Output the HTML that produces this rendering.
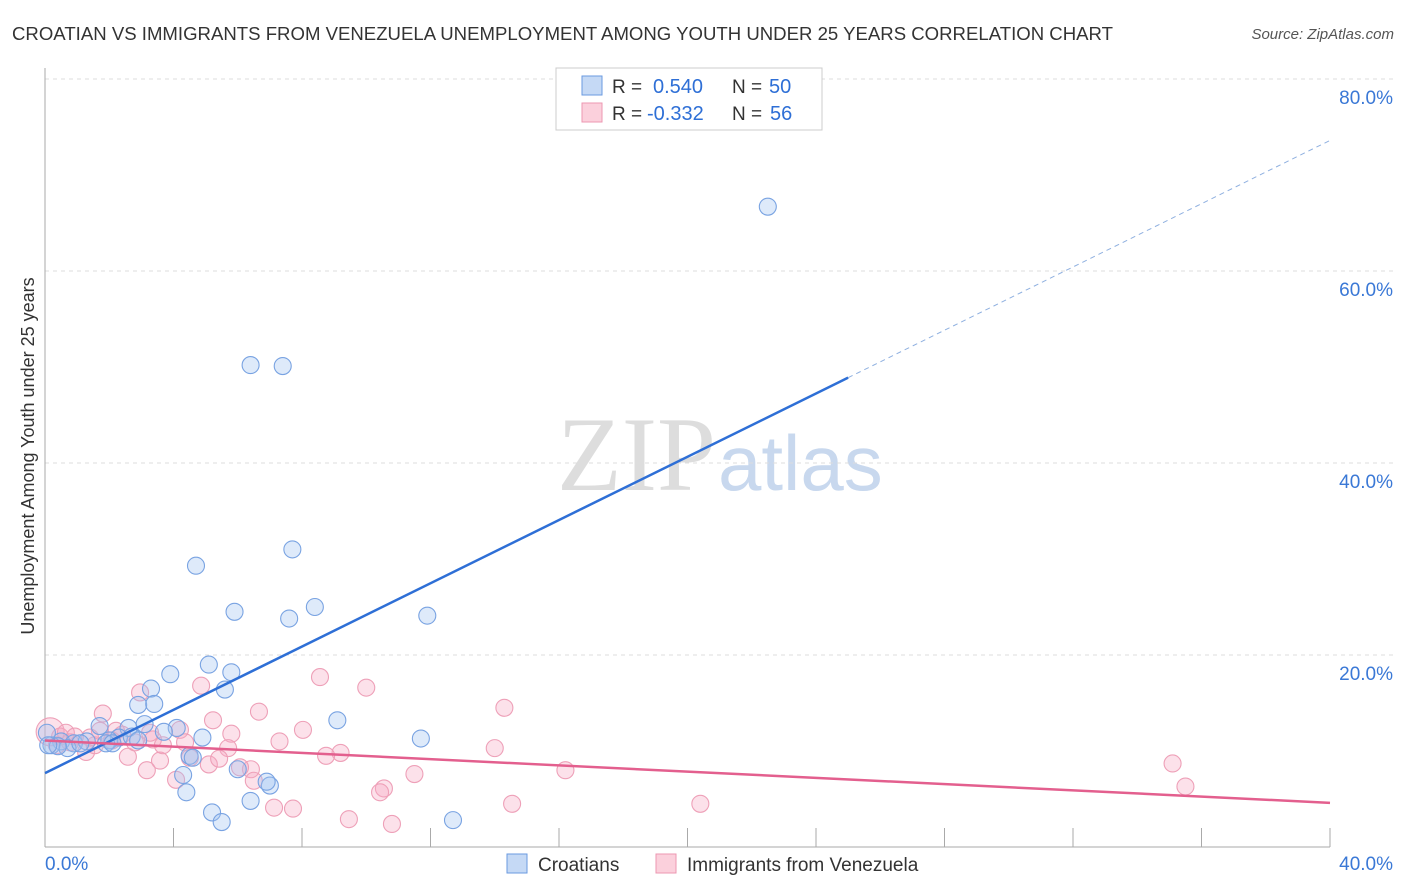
<!DOCTYPE html>
<html><head><meta charset="utf-8"><style>
body{margin:0;background:#fff;font-family:"Liberation Sans",sans-serif}
svg{display:block}
</style></head><body>
<svg id="chart" width="1406" height="892">
<text x="12" y="40" font-size="18.6" fill="#333" textLength="1101" lengthAdjust="spacingAndGlyphs">CROATIAN VS IMMIGRANTS FROM VENEZUELA UNEMPLOYMENT AMONG YOUTH UNDER 25 YEARS CORRELATION CHART</text>
<text x="1394" y="39" font-size="15" fill="#555" font-style="italic" text-anchor="end">Source: ZipAtlas.com</text>
<text x="716" y="490" font-size="106" fill="#ddd" text-anchor="end" font-family="Liberation Serif">ZIP</text>
<text x="718" y="490" font-size="78" fill="#c8d8ee">atlas</text>
<text transform="translate(34,456) rotate(-90)" font-size="18" fill="#333" text-anchor="middle">Unemployment Among Youth under 25 years</text>
<g id="grid"></g><g id="pts"></g><g id="lines"></g>
<g>
<rect x="556" y="68" width="266" height="62" fill="#fff" stroke="#ccc"/>
<rect x="582" y="76" width="20" height="19" fill="#c5d9f5" stroke="#6a9ae0"/>
<rect x="582" y="103" width="20" height="19" fill="#fbd0dc" stroke="#ec97b2"/>
<text x="612" y="93" font-size="19" fill="#333">R =</text>
<text x="653" y="93" font-size="20" fill="#2e6fd6">0.540</text>
<text x="732" y="93" font-size="19" fill="#333">N =</text>
<text x="769" y="93" font-size="20" fill="#2e6fd6">50</text>
<text x="612" y="120" font-size="19" fill="#333">R =</text>
<text x="647" y="120" font-size="20" fill="#2e6fd6">-0.332</text>
<text x="732" y="120" font-size="19" fill="#333">N =</text>
<text x="770" y="120" font-size="20" fill="#2e6fd6">56</text>
</g>
<g>
<rect x="507" y="854" width="20" height="19" fill="#c5d9f5" stroke="#6a9ae0"/>
<text x="538" y="871" font-size="19" fill="#333">Croatians</text>
<rect x="656" y="854" width="20" height="19" fill="#fbd0dc" stroke="#ec97b2"/>
<text x="687" y="871" font-size="19" fill="#333">Immigrants from Venezuela</text>
</g>
</svg>
<script>
const yTicks=[20,40,60,80];
const xLabels=["0.0%","40.0%"];
const blueX=[22.5,6.4,7.4,7.7,4.7,5.9,8.4,7.6,11.9,5.1,3.9,5.8,3.3,5.6,2.9,3.4,3.1,1.7,2.6,4.1,3.7,2.3,2.0,4.9,0.5,0.9,1.3,1.9,0.2,0.7,0.4,9.1,11.7,4.5,4.3,6.0,7.0,6.9,4.4,6.4,5.2,5.5,12.7,0.06,0.1,1.1,2.1,2.7,2.9,4.6];
const blueY=[66.7,50.2,50.1,31.0,29.3,24.5,25.0,23.8,24.1,19.0,18.0,18.2,16.5,16.4,14.8,14.9,12.8,12.6,12.4,12.4,12.0,11.4,11.1,11.4,11.0,10.8,11.0,10.8,10.6,10.3,10.5,13.2,11.3,9.5,7.5,8.1,6.4,6.8,5.7,4.8,3.6,2.6,2.8,11.9,10.6,10.8,10.8,11.5,11.1,9.3];
const pinkX=[0.16,1.8,2.96,4.86,8.56,10.0,14.3,6.66,5.23,4.2,5.8,8.03,3.36,2.4,1.28,2.58,7.3,5.7,14.0,9.2,8.75,3.58,5.1,5.42,3.17,4.51,6.41,11.5,16.2,35.1,35.5,10.55,10.43,4.08,6.5,7.13,7.72,14.54,20.4,9.46,10.8,0.47,0.78,1.55,0.65,1.4,2.08,2.21,2.8,0.37,0.93,3.27,6.07,3.67,4.36,1.71];
const pinkY=[12.0,13.9,16.1,16.8,17.7,16.6,14.5,14.1,13.2,12.2,11.8,12.2,11.2,11.7,9.9,9.4,11.0,10.3,10.3,9.8,9.5,9.0,8.6,9.2,8.0,9.3,8.1,7.6,8.0,8.7,6.3,6.1,5.7,7.0,6.9,4.1,4.0,4.5,4.5,2.9,2.4,11.5,10.9,10.6,11.9,11.4,11.1,12.1,10.9,10.6,11.5,11.9,8.3,10.6,10.9,12.1];
const blueLine=[7.7,73.6], blueSolidEnd=25;
const pinkLine=[11.1,4.6];
const NS="http://www.w3.org/2000/svg";
const X=v=>45+v/40*1285, Y=v=>847-v*9.6;
function mk(t,a,p){const e=document.createElementNS(NS,t);for(const k in a)e.setAttribute(k,a[k]);p.appendChild(e);return e;}
const grid=document.getElementById('grid');
yTicks.forEach(t=>{
 const l=mk('line',{x1:45,x2:1394,y1:Y(t),y2:Y(t),stroke:'#ddd','stroke-dasharray':'4,4'},grid);
 
 
 const tx=mk('text',{x:1393,y:Y(t)+25,'font-size':19,fill:'#3a78d6','text-anchor':'end'},grid);tx.textContent=t.toFixed(1)+'%';
 
 
});
mk('line',{x1:45,x2:45,y1:68,y2:847,stroke:'#aaa'},grid);
mk('line',{x1:45,x2:1330,y1:847,y2:847,stroke:'#aaa'},grid);
for(let i=1;i<=10;i++){mk('line',{x1:X(i*4),x2:X(i*4),y1:828,y2:847,stroke:'#aaa'},grid);}
const xl0=mk('text',{x:45,y:870,'font-size':19,fill:'#3a78d6'},grid);xl0.textContent=xLabels[0];


const xl1=mk('text',{x:1393,y:870,'font-size':19,fill:'#3a78d6','text-anchor':'end'},grid);xl1.textContent=xLabels[1];


const pts=document.getElementById('pts');
pinkX.forEach((x,i)=>{const c=mk('circle',{cx:X(x),cy:Y(pinkY[i]),r:i==0?14:8.5,fill:'rgba(246,170,195,0.35)',stroke:'#eea0b8','stroke-width':1.1},pts);
 
 });
blueX.forEach((x,i)=>{const c=mk('circle',{cx:X(x),cy:Y(blueY[i]),r:8.5,fill:'rgba(160,195,240,0.35)',stroke:'#79a3e2','stroke-width':1.1},pts);
 
 });
const ln=document.getElementById('lines');
const bAt=x=>blueLine[0]+(blueLine[1]-blueLine[0])*x/40;
const b1=mk('line',{x1:X(0),y1:Y(bAt(0)),x2:X(blueSolidEnd),y2:Y(bAt(blueSolidEnd)),stroke:'#2e6fd6','stroke-width':2.5},ln);


const b2=mk('line',{x1:X(blueSolidEnd),y1:Y(bAt(blueSolidEnd)),x2:X(40),y2:Y(bAt(40)),stroke:'#8fb0e0','stroke-width':1,'stroke-dasharray':'5,4'},ln);


const p1=mk('line',{x1:X(0),y1:Y(pinkLine[0]),x2:X(40),y2:Y(pinkLine[1]),stroke:'#e35f8e','stroke-width':2.5},ln);


</script>
</body></html>
